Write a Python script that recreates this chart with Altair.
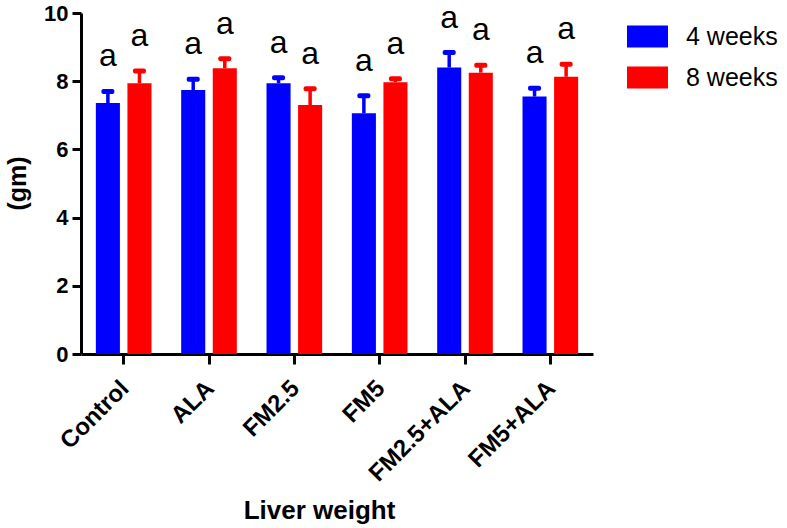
import altair as alt
import pandas as pd

# ---- data ----
groups = ["Control", "ALA", "FM2.5", "FM5", "FM2.5+ALA", "FM5+ALA"]
periods = ["4 weeks", "8 weeks"]
mean_4w = [7.36, 7.74, 7.94, 7.06, 8.40, 7.55]
sd_4w = [0.34, 0.32, 0.16, 0.51, 0.44, 0.24]
mean_8w = [7.94, 8.38, 7.30, 7.97, 8.25, 8.13]
sd_8w = [0.36, 0.28, 0.48, 0.10, 0.22, 0.37]
letters_4w = ["a", "a", "a", "a", "a", "a"]
letters_8w = ["a", "a", "a", "a", "a", "a"]
colors = ["#0000FF", "#FF0000"]
y_ticks = [0, 2, 4, 6, 8, 10]

rows = []
for i, g in enumerate(groups):
    rows.append(dict(group=g, period=periods[0], mean=mean_4w[i],
                     upper=round(mean_4w[i] + sd_4w[i], 3), letter=letters_4w[i]))
    rows.append(dict(group=g, period=periods[1], mean=mean_8w[i],
                     upper=round(mean_8w[i] + sd_8w[i], 3), letter=letters_8w[i]))
df = pd.DataFrame(rows)

FONT = "Liberation Sans"

x = alt.X("group:N", sort=groups,
          scale=alt.Scale(paddingInner=0.2, paddingOuter=0.1),
          axis=alt.Axis(title="Liver weight", labelAngle=-45, labelAlign="right",
                        labelBaseline="top", labelOffset=-7, labelPadding=12,
                        labelFont=FONT, labelFontSize=24, labelFontWeight="bold",
                        labelColor="black", tickSize=10, tickWidth=3, tickColor="black",
                        domainWidth=3, domainColor="black",
                        titleFont=FONT, titleFontSize=26, titleFontWeight="bold",
                        titleColor="black", titleX=238, titleY=164,
                        titleAlign="center", titleBaseline="alphabetic"))
xo = alt.XOffset("period:N", sort=periods,
                 scale=alt.Scale(paddingInner=0.238, paddingOuter=0.2))
y_axis = alt.Axis(values=y_ticks, title="(gm)", grid=False,
                  labelFont=FONT, labelFontSize=22, labelFontWeight="bold",
                  labelColor="black", labelPadding=4,
                  tickSize=9, tickWidth=3, tickColor="black",
                  domainWidth=3, domainColor="black",
                  titleFont=FONT, titleFontSize=25, titleFontWeight="bold",
                  titleColor="black", titleX=-64, titleY=170,
                  titleAlign="center", titleBaseline="middle")
y_scale = alt.Scale(domain=[0, 10], nice=False, zero=True)
color = alt.Color("period:N", sort=periods,
                  scale=alt.Scale(domain=periods, range=colors),
                  legend=alt.Legend(title=None, orient="none", legendX=546, legendY=3,
                                    symbolType="M-1,-0.537H1V0.537H-1Z",
                                    symbolSize=1681, symbolStrokeWidth=0,
                                    symbolOpacity=1,
                                    labelFont=FONT, labelFontSize=25, labelColor="black",
                                    labelOffset=18, rowPadding=7))

base = alt.Chart(df)

bars = base.mark_bar(opacity=1).encode(
    x=x, xOffset=xo, y=alt.Y("mean:Q", scale=y_scale, axis=y_axis), color=color)

stems = base.mark_rule(strokeWidth=3.5).encode(
    x=x, xOffset=xo, y=alt.Y("mean:Q", scale=y_scale), y2="upper:Q", color=color)

caps = base.mark_tick(size=13, thickness=5, cornerRadius=2, opacity=1).encode(
    x=x, xOffset=xo, y=alt.Y("upper:Q", scale=y_scale), color=color)

labels = base.mark_text(font=FONT, fontSize=32, baseline="alphabetic", dy=-25,
                        color="black").encode(
    x=x, xOffset=xo, y=alt.Y("upper:Q", scale=y_scale), text="letter:N")

chart = alt.layer(bars, stems, caps, labels).properties(
    width=512, height=341,
    padding={"left": 81, "top": 13, "right": 194, "bottom": 174},
    autosize=alt.AutoSizeParams(type="none"),
).configure_view(stroke=None)

chart.save("out.html", embed_options={"renderer": "svg", "actions": False})
